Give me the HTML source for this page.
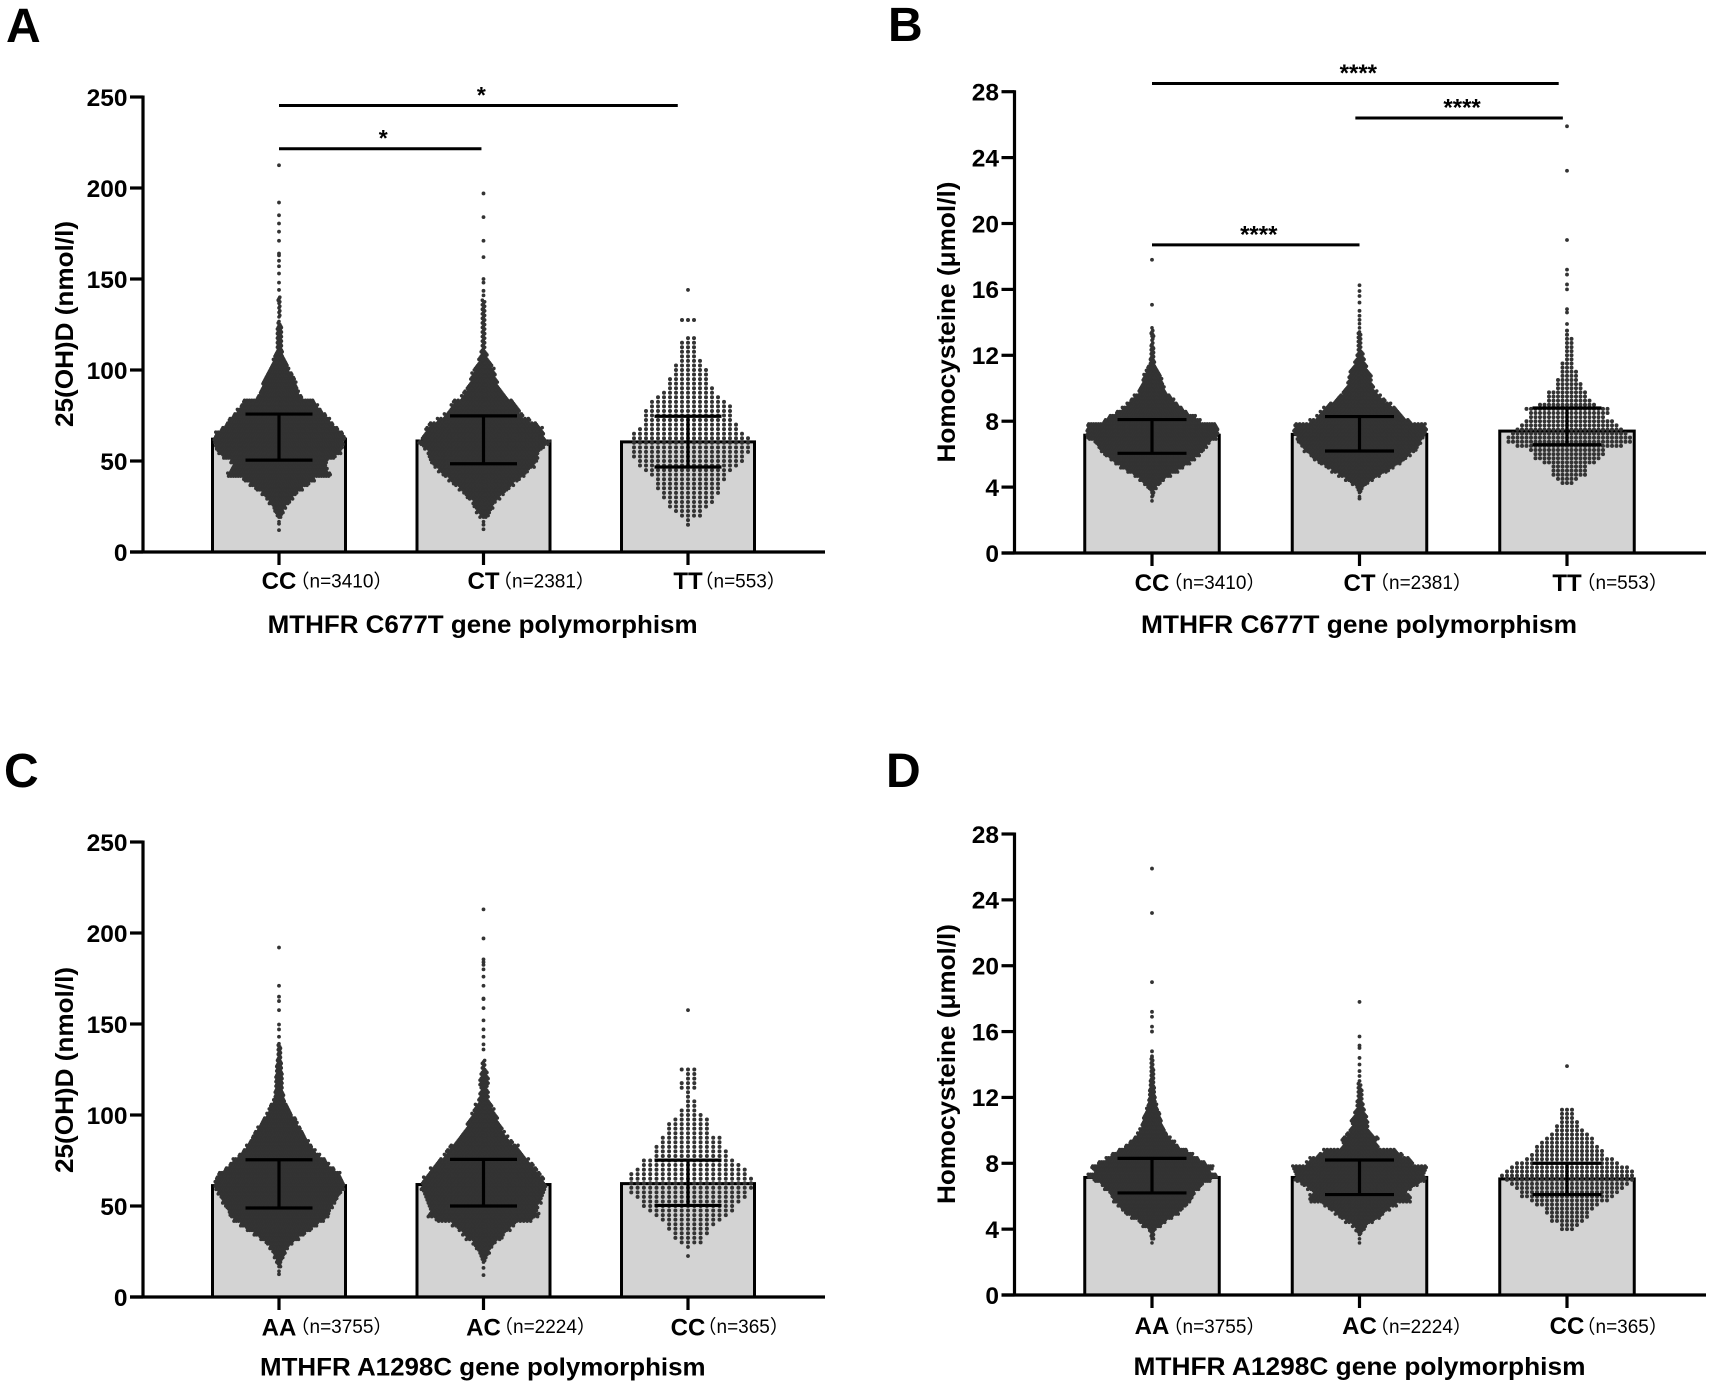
<!DOCTYPE html>
<html lang="en">
<head>
<meta charset="utf-8">
<title>25(OH)D and homocysteine by MTHFR genotype</title>
<style>
  html, body { margin: 0; padding: 0; background: #fff; }
  svg { display: block; }
  text { font-family: "Liberation Sans", "Noto Sans CJK SC", sans-serif; fill: #000; }
  .b { font-weight: 700; }
</style>
</head>
<body>
<svg id="figure" xmlns="http://www.w3.org/2000/svg" width="1713" height="1387" viewBox="0 0 1713 1387">
  <rect width="1713" height="1387" fill="#fff"/>
  <text class="b" x="6" y="42" font-size="48">A</text>
  <text class="b" x="888" y="41" font-size="48">B</text>
  <text class="b" x="4" y="787" font-size="48">C</text>
  <text class="b" x="886" y="787" font-size="48">D</text>
</svg>
<script>
// ---------- shared axis data ----------
const ticksVitD = [0, 50, 100, 150, 200, 250];
const ticksHcy = [0, 4, 8, 12, 16, 20, 24, 28];
const catsC677T = ['CC', 'CT', 'TT'];
const catsA1298C = ['AA', 'AC', 'CC'];
const nC677T = ['（n=3410）', '（n=2381）', '（n=553）'];
const nA1298C = ['（n=3755）', '（n=2224）', '（n=365）'];

// ---------- panel A: 25(OH)D by C677T ----------
const meansA = [62, 61, 60.5];
const upperA = [75.8, 74.8, 74.6];
const lowerA = [50.5, 48.5, 46.7];
const startsA = [17.5, 17.5, 15];
const countsACC = [1,6,11,16,26,34,44,59,74,89,129,121,116,121,141,154,159,161,164,159,146,134,126,116,106,96,89,56,48,44,42,38,32,25,20,16,11,8,6,6,6,6,6,4,1,2,2,2,3,2];
const countsACT = [1,8,13,17,20,29,36,44,53,62,72,79,88,93,95,97,105,114,107,104,102,95,81,69,62,58,53,40,35,29,25,23,21,18,14,10,7,5,3,3,3,3,3,3,3,3,3,3,3];
const countsATT = [1,1,4,5,7,8,9,10,11,11,12,13,15,17,18,19,20,20,20,20,19,17,16,15,15,15,14,13,11,9,8,7,7,6,6,5,4,3,3,3,3,2,0,0,0,3];
const outliersACC = [12, 15.5, 144, 148, 153, 157, 160, 163, 164, 171, 176, 180.5, 185, 192, 212.5];
const outliersACT = [12.5, 15, 141, 143.5, 148, 150, 162, 171, 184, 197];
const outliersATT = [144];

// ---------- panel B: homocysteine by C677T ----------
const meansB = [7.15, 7.2, 7.4];
const upperB = [8.1, 8.28, 8.8];
const lowerB = [6.05, 6.19, 6.57];
const startsB = [3.25, 3.5, 4.25];
const countsBCC = [1,2,4,11,21,31,46,64,79,94,106,119,129,136,144,161,164,164,161,121,109,89,76,64,54,46,34,31,26,24,21,16,11,6,5,4,4,4,2,2,4,2,1];
const countsBCT = [1,3,6,15,25,37,50,60,72,81,88,98,102,107,110,114,116,114,88,76,70,64,55,44,37,30,25,22,20,20,17,13,10,8,6,4,3,3,3,3,1,1,1];
const countsBTT = [3,5,8,8,8,12,15,16,17,24,28,28,26,24,22,20,17,18,19,13,10,9,9,6,6,5,4,4,3,3,2,2,2,2,2,2,1,1];
const outliersBCC = [15.07, 17.8];
const outliersBCT = [3.3, 14.15, 14.4, 14.7, 15.2, 15.6, 15.9, 16.25];
const outliersBTT = [13.9, 14.6, 14.8, 16, 16.3, 16.9, 17.2, 19, 23.2, 25.9];

// ---------- panel C: 25(OH)D by A1298C ----------
const meansC = [61.2, 61.8, 62.3];
const upperC = [75.4, 75.6, 75.2];
const lowerC = [48.9, 50, 50.3];
const startsC = [15, 20, 30];
const countsCAA = [1,4,7,13,17,25,36,52,68,87,103,121,132,135,143,151,156,164,172,172,167,162,146,132,124,108,97,87,79,71,65,57,49,44,33,28,23,15,12,11,9,9,9,8,7,7,5,4,4,4,1];
const countsCAC = [3,6,10,15,20,32,37,46,55,84,97,93,95,100,102,105,109,107,105,98,93,86,79,70,65,60,50,43,37,32,29,25,22,18,15,10,8,8,6,8,8,6,4,3,2];
const countsCCC = [4,5,6,7,8,10,12,14,15,16,18,19,20,20,20,19,18,16,15,12,12,11,10,10,7,7,7,6,4,3,2,2,1,1,3,3,2,2,3];
const outliersCAA = [12.5, 143, 147, 149.7, 157.6, 162.6, 165, 171, 192];
const outliersCAC = [12, 16, 136, 138.8, 143, 147, 152, 158.7, 163.7, 164, 171, 176, 180, 182.5, 184, 185.5, 197, 213];
const outliersCCC = [22.5, 27.5, 157.6];

// ---------- panel D: homocysteine by A1298C ----------
const meansD = [7.14, 7.14, 7.05];
const upperD = [8.3, 8.2, 8.0];
const lowerD = [6.2, 6.1, 6.1];
const startsD = [3.25, 3.25, 4];
const countsDAA = [1,4,4,9,25,36,55,71,81,92,103,108,113,127,135,156,172,154,162,143,124,108,92,71,60,49,39,33,28,25,23,20,15,12,9,8,7,7,5,5,4,4,4,3,3,1];
const countsDAC = [1,1,3,8,13,25,36,43,53,64,88,88,81,91,102,114,112,114,117,93,88,74,64,32,29,32,23,17,14,15,13,10,8,6,5,4,4,4,3];
const countsDCC = [3,4,7,8,9,10,13,16,19,20,22,24,26,27,26,24,21,18,15,14,13,11,10,8,6,5,4,3,3,3];
const outliersDAA = [14.5, 14.8, 16, 16.3, 16.9, 17.2, 19, 23.2, 25.9];
const outliersDAC = [13, 13.3, 13.6, 14, 14.4, 15, 15.15, 15.7, 17.8];
const outliersDCC = [13.9];

// ---------- significance brackets (category index span, value height) ----------
const sigFromA = [0, 0];
const sigToA = [1.95, 0.99];
const sigValueA = [245.3, 221.6];
const sigLabelA = ['*', '*'];
const sigFromB = [0, 0.98, 0];
const sigToB = [1.96, 1.98, 1];
const sigValueB = [28.5, 26.4, 18.7];
const sigLabelB = ['****', '****', '****'];

// ---------- panel layout ----------
const DOT = '#333';
const panels = [
  { axisX: 143, y0: 552, yTop: 97, yMax: 250, x0: 279, dx: 204.5, barW: 133, capW: 67, xEnd: 825,
    ticks: ticksVitD, cats: catsC677T, ns: nC677T, nOff: [11.5, 9.5, 6.5], catBase: 589, nBase: 587.5,
    means: meansA, upper: upperA, lower: lowerA, starts: startsA,
    counts: [countsACC, countsACT, countsATT], outliers: [outliersACC, outliersACT, outliersATT],
    steps: [0.8, 1.15, 6], dense: [true, true, false], bin: 2.5,
    sigFrom: sigFromA, sigTo: sigToA, sigValue: sigValueA, sigLabel: sigLabelA, sigFont: 23,
    xTitle: 'MTHFR C677T gene polymorphism', xTitleX: 482.6, xTitleY: 633, xTitleLen: 430,
    yTitle: '25(OH)D (nmol/l)', yTitleX: 73, yTitleY: 324, yTitleLen: 206 },
  { axisX: 1014.5, y0: 553, yTop: 91.7, yMax: 28, x0: 1152, dx: 207.5, barW: 134.5, capW: 69, xEnd: 1706,
    ticks: ticksHcy, cats: catsC677T, ns: nC677T, nOff: [11.5, 10.5, 9.5], catBase: 591, nBase: 589,
    means: meansB, upper: upperB, lower: lowerB, starts: startsB,
    counts: [countsBCC, countsBCT, countsBTT], outliers: [outliersBCC, outliersBCT, outliersBTT],
    steps: [0.8, 1.15, 4.5], dense: [true, true, false], bin: 0.25,
    sigFrom: sigFromB, sigTo: sigToB, sigValue: sigValueB, sigLabel: sigLabelB, sigFont: 24,
    xTitle: 'MTHFR C677T gene polymorphism', xTitleX: 1359, xTitleY: 633, xTitleLen: 436,
    yTitle: 'Homocysteine (μmol/l)', yTitleX: 955, yTitleY: 322, yTitleLen: 281 },
  { axisX: 143, y0: 1297, yTop: 842, yMax: 250, x0: 279, dx: 204.5, barW: 133, capW: 67, xEnd: 825,
    ticks: ticksVitD, cats: catsA1298C, ns: nA1298C, nOff: [11.5, 10.5, 9.5], catBase: 1335.5, nBase: 1333,
    means: meansC, upper: upperC, lower: lowerC, starts: startsC,
    counts: [countsCAA, countsCAC, countsCCC], outliers: [outliersCAA, outliersCAC, outliersCCC],
    steps: [0.75, 1.15, 6.3], dense: [true, true, false], bin: 2.5,
    sigFrom: [], sigTo: [], sigValue: [], sigLabel: [], sigFont: 22,
    xTitle: 'MTHFR A1298C gene polymorphism', xTitleX: 482.8, xTitleY: 1375.6, xTitleLen: 445.6,
    yTitle: '25(OH)D (nmol/l)', yTitleX: 73, yTitleY: 1070, yTitleLen: 206 },
  { axisX: 1014.5, y0: 1295, yTop: 834, yMax: 28, x0: 1152, dx: 207.5, barW: 134.5, capW: 69, xEnd: 1706,
    ticks: ticksHcy, cats: catsA1298C, ns: nA1298C, nOff: [11.5, 10.5, 9.5], catBase: 1334, nBase: 1333,
    means: meansD, upper: upperD, lower: lowerD, starts: startsD,
    counts: [countsDAA, countsDAC, countsDCC], outliers: [outliersDAA, outliersDAC, outliersDCC],
    steps: [0.75, 1.15, 5], dense: [true, true, false], bin: 0.25,
    sigFrom: [], sigTo: [], sigValue: [], sigLabel: [], sigFont: 24,
    xTitle: 'MTHFR A1298C gene polymorphism', xTitleX: 1359.5, xTitleY: 1375, xTitleLen: 452,
    yTitle: 'Homocysteine (μmol/l)', yTitleX: 955, yTitleY: 1064, yTitleLen: 280 }
];

const svg = document.getElementById('figure');
const NS = 'http://www.w3.org/2000/svg';

function make(parent, tag, attrs, txt) {
  const el = document.createElementNS(NS, tag);
  for (const k in attrs) el.setAttribute(k, attrs[k]);
  if (txt !== undefined) el.textContent = txt;
  parent.appendChild(el);
  return el;
}

function line(parent, x1, y1, x2, y2, w) {
  return make(parent, 'line', { x1: x1, y1: y1, x2: x2, y2: y2, stroke: '#000', 'stroke-width': w });
}

function drawPanel(p) {
  const yScale = v => p.y0 - (v / p.yMax) * (p.y0 - p.yTop);
  const xScale = i => p.x0 + i * p.dx;

  const g = make(svg, 'g', {});
  
  

  // bars
  p.means.forEach((m, i) => {
    const bar = make(g, 'rect', {
      x: xScale(i) - p.barW / 2, y: yScale(m), width: p.barW, height: p.y0 - yScale(m),
      fill: '#d3d3d3', stroke: '#000', 'stroke-width': 3
    });
    
    
  });

  // beeswarm points, one per observation, stacked outward inside each value bin
  p.counts.forEach((counts, c) => {
    const swarm = make(g, 'g', { fill: DOT });
    
    
    const radius = p.dense[c] ? 1.8 : 2;
    counts.forEach((count, b) => {
      const level = p.starts[c] + b * p.bin;
      for (let k = 0; k < count; k++) {
        const side = k % 2 ? 1 : -1;
        const off = ((k + 1) >> 1) * side * p.steps[c];
        const sub = p.dense[c] ? ((k % 3) - 1) * p.bin / 3 : 0;
        const dot = make(swarm, 'circle', { cx: xScale(c) + off, cy: yScale(level + sub), r: radius });
        
        
      }
    });
    p.outliers[c].forEach(v => {
      const dot = make(swarm, 'circle', { cx: xScale(c), cy: yScale(v), r: 1.9 });
      
      
    });
  });

  // error bars
  p.means.forEach((m, i) => {
    const cx = xScale(i);
    const stem = line(g, cx, yScale(p.upper[i]), cx, yScale(p.lower[i]), 3.2);
    
    
    const top = line(g, cx - p.capW / 2, yScale(p.upper[i]), cx + p.capW / 2, yScale(p.upper[i]), 3.2);
    
    
    const low = line(g, cx - p.capW / 2, yScale(p.lower[i]), cx + p.capW / 2, yScale(p.lower[i]), 3.2);
    
    
  });

  // y axis
  const yAxis = line(g, p.axisX, p.yTop - 1.5, p.axisX, p.y0 + 1.5, 3.2);
  
  
  p.ticks.forEach(t => {
    const tk = line(g, p.axisX - 13, yScale(t), p.axisX, yScale(t), 3.2);
    
    
    const lb = make(g, 'text', { class: 'b', x: p.axisX - 15.5, y: yScale(t) + 8.8, 'font-size': 24.5, 'text-anchor': 'end' }, String(t));
    
    
  });

  // x axis
  const xAxis = line(g, p.axisX - 13, p.y0, p.xEnd, p.y0, 3.2);
  
  
  p.cats.forEach((c, i) => {
    const cx = xScale(i);
    const tk = line(g, cx, p.y0, cx, p.y0 + 13, 3.2);
    
    
    const lb = make(g, 'text', { class: 'b', x: cx, y: p.catBase, 'font-size': 24, 'text-anchor': 'middle' }, c);
    
    
    const nl = make(g, 'text', { x: cx + p.nOff[i], y: p.nBase, 'font-size': 19 }, p.ns[i]);
    
    
  });

  // axis titles
  const xt = make(g, 'text', {
    class: 'b', x: p.xTitleX, y: p.xTitleY, 'font-size': 25, 'text-anchor': 'middle',
    textLength: p.xTitleLen, lengthAdjust: 'spacingAndGlyphs'
  }, p.xTitle);
  
  
  const yt = make(g, 'text', {
    class: 'b', x: 0, y: 0, 'font-size': 25, 'text-anchor': 'middle',
    textLength: p.yTitleLen, lengthAdjust: 'spacingAndGlyphs',
    transform: 'translate(' + p.yTitleX + ' ' + p.yTitleY + ') rotate(-90)'
  }, p.yTitle);
  
  

  // significance brackets
  p.sigValue.forEach((v, i) => {
    const a = xScale(p.sigFrom[i]);
    const b = xScale(p.sigTo[i]);
    const sl = line(g, a, yScale(v), b, yScale(v), 3);
    
    
    const st = make(g, 'text', { class: 'b', x: (a + b) / 2 + 3, y: yScale(v) - 2.5, 'font-size': p.sigFont, 'text-anchor': 'middle' }, p.sigLabel[i]);
    
    
  });
}

panels.forEach(drawPanel);
</script>
</body>
</html>
